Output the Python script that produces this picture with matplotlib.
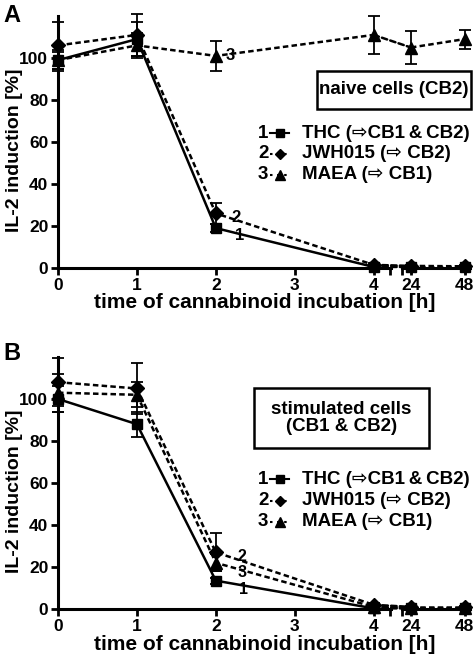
import matplotlib
matplotlib.use("Agg")
import matplotlib.pyplot as plt
from matplotlib.lines import Line2D
from matplotlib.patches import ConnectionPatch, Rectangle

plt.rcParams['font.family'] = ['Liberation Sans', 'DejaVu Sans']
plt.rcParams['font.weight'] = 'bold'

W, H = 475, 659

t_early = [0, 1, 2, 4]
t_late = [24, 48]

# panel A (naive cells)
thc_a = [99, 109, 19, 0.5]
thc_a_late = [0.5, 0.5]
thc_a_err = [5, 8, 2, 0.5]
thc_a_late_err = [0.3, 0.3]
jwh_a = [106, 111, 26, 1.5]
jwh_a_late = [1, 0.8]
jwh_a_err = [11, 10, 5, 1]
jwh_a_late_err = [0.5, 0.5]
maea_a = [99, 106, 101, 111]
maea_a_late = [105, 109]
maea_a_err = [4, 6, 7, 9]
maea_a_late_err = [8, 4.5]

# panel B (stimulated cells)
thc_b = [100, 88, 13.5, 0.3]
thc_b_late = [0.3, 0.3]
thc_b_err = [6, 6, 1.5, 0.3]
thc_b_late_err = [0.3, 0.3]
jwh_b = [108, 105, 27, 2]
jwh_b_late = [1, 1]
jwh_b_err = [11.5, 12, 9, 1]
jwh_b_late_err = [0.5, 0.5]
maea_b = [103, 102, 22, 1]
maea_b_late = [0.5, 0.5]
maea_b_err = [9, 6, 4, 0.5]
maea_b_late_err = [0.3, 0.3]

labels = ["THC (\u21e8CB1\u2009&\u2009CB2)", "JWH015 (\u21e8 CB2)", "MAEA (\u21e8 CB1)"]
markers = ['s', 'D', '^']
styles = ['-', (0, (2.2, 1.3)), (0, (2.2, 1.3))]
msizes = [7.5, 7, 8.5]

fig = plt.figure(figsize=(W / 100, H / 100), dpi=100)


def fx(px):
    return px / W


def fy(py):
    return 1 - py / H


def make_axes(y0):
    # y0 = pixel row of y=0
    bottom = fy(y0)
    height = 252 / H
    axl = fig.add_axes([fx(58), bottom, fx(391 - 58), height])
    axr = fig.add_axes([fx(402), bottom, fx(470 - 402), height], sharey=axl)
    for ax in (axl, axr):
        ax.spines['top'].set_visible(False)
        ax.spines['right'].set_visible(False)
        for s in ax.spines.values():
            s.set_linewidth(2.2)
        ax.tick_params(width=2, length=5, labelsize=12.5, pad=2)
        ax.tick_params(which='minor', width=2, length=5)
        ax.patch.set_alpha(0)
    axr.spines['left'].set_visible(False)
    axr.tick_params(axis='y', which='both', left=False, labelleft=False)
    axl.set_xlim(0, 4.22)
    axr.set_xlim(20, 50.4)
    axl.set_ylim(0, 120)
    axl.set_xticks([0, 1, 2, 3, 4])
    axl.set_xticks([4.21], minor=True)
    axr.set_xticks([24, 48])
    axr.set_xticks([20.1], minor=True)
    axl.set_yticks([0, 20, 40, 60, 80, 100])
    axl.set_yticks([], minor=True)
    for ax in (axl, axr):
        for lab in ax.get_xticklabels() + ax.get_yticklabels():
            lab.set_fontweight('bold')
    return axl, axr


def draw(axl, axr, series):
    for i, (e, el, er, erl) in enumerate(series):
        kw = dict(color='black', marker=markers[i], ms=msizes[i], lw=1.8,
                  ls=styles[i], capsize=4.5, elinewidth=1.3, capthick=1.3,
                  clip_on=False, zorder=3)
        axl.errorbar(t_early, e, yerr=er, **kw)
        axr.errorbar(t_late, el, yerr=erl, **dict(kw, ls=styles[1]))
        con = ConnectionPatch(xyA=(t_early[-1], e[-1]), coordsA=axl.transData,
                              xyB=(t_late[0], el[0]), coordsB=axr.transData,
                              color='black', lw=1.8, ls=styles[1], zorder=2)
        fig.add_artist(con)


def legend(y_first, dy):
    for i in range(3):
        y = fy(y_first + i * dy)
        fig.text(fx(258), y, str(i + 1), fontsize=13.5, fontweight='bold',
                 va='center', ha='left')
        ln = Line2D([fx(270), fx(289)], [y, y], transform=fig.transFigure,
                    color='black', lw=1.5, ls='-' if i == 0 else (0, (1.2, 2.2)))
        fig.add_artist(ln)
        mk = Line2D([fx(279.5)], [y], transform=fig.transFigure, color='black',
                    marker=markers[i], ms=msizes[i] - 1.5, ls='none')
        fig.add_artist(mk)
        fig.text(fx(302), y, labels[i], fontsize=13.5, fontweight='bold',
                 va='center', ha='left')


def box(x0, y0, x1, y1, text):
    fig.add_artist(Rectangle((fx(x0), fy(y1)), fx(x1 - x0), (y1 - y0) / H,
                             transform=fig.transFigure, fc='white', ec='black',
                             lw=1.8, zorder=4))
    fig.text(fx((x0 + x1) / 2), fy((y0 + y1) / 2), text, fontsize=13.5,
             fontweight='bold', ha='center', va='center', linespacing=1.0,
             zorder=5)


# Panel A
axl, axr = make_axes(268)
draw(axl, axr, [(thc_a, thc_a_late, thc_a_err, thc_a_late_err),
                (jwh_a, jwh_a_late, jwh_a_err, jwh_a_late_err),
                (maea_a, maea_a_late, maea_a_err, maea_a_late_err)])
axl.text(2.13, 101, "3", fontsize=12, fontweight='bold', va='center')
axl.text(2.2, 24, "2", fontsize=12, fontweight='bold', va='center')
axl.text(2.24, 15.5, "1", fontsize=12, fontweight='bold', va='center')
fig.text(fx(15), fy(150), "IL-2 induction [%]", rotation=90, fontsize=14,
         fontweight='bold', ha='center', va='center')
fig.text(fx(265), fy(303), "time of cannabinoid incubation [h]", fontsize=15,
         fontweight='bold', ha='center', va='center')
fig.text(fx(3), fy(16), "A", fontsize=17, fontweight='bold', va='center')
box(317, 71, 471, 109, "naive cells (CB2)")
legend(133, 21)

# Panel B
axl, axr = make_axes(609)
draw(axl, axr, [(thc_b, thc_b_late, thc_b_err, thc_b_late_err),
                (jwh_b, jwh_b_late, jwh_b_err, jwh_b_late_err),
                (maea_b, maea_b_late, maea_b_err, maea_b_late_err)])
axl.text(2.28, 24.8, "2", fontsize=11.5, fontweight='bold', va='center')
axl.text(2.28, 17.3, "3", fontsize=11.5, fontweight='bold', va='center')
axl.text(2.3, 9.5, "1", fontsize=11.5, fontweight='bold', va='center')
fig.text(fx(15), fy(491), "IL-2 induction [%]", rotation=90, fontsize=14,
         fontweight='bold', ha='center', va='center')
fig.text(fx(265), fy(645), "time of cannabinoid incubation [h]", fontsize=15,
         fontweight='bold', ha='center', va='center')
fig.text(fx(3), fy(354), "B", fontsize=17, fontweight='bold', va='center')
box(254, 388, 429, 448, "stimulated cells\n(CB1 & CB2)")
legend(479, 21.5)

fig.savefig("out.png", dpi=100)
